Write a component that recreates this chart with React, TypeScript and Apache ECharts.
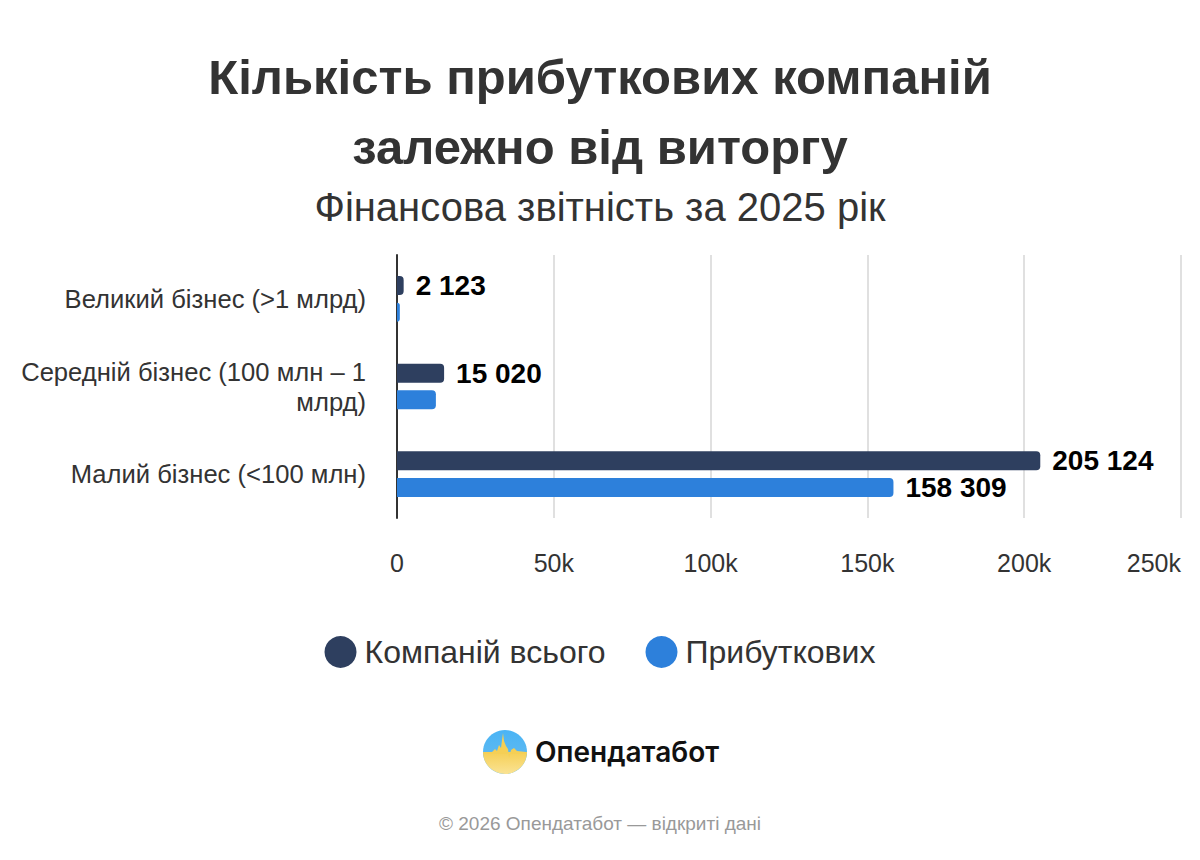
import React, { useEffect, useRef } from "react";
import * as echarts from "echarts";

const categories = [
  "Малий бізнес (<100 млн)",
  "Середній бізнес (100 млн – 1 млрд)",
  "Великий бізнес (>1 млрд)",
];
const totalCompanies = [205124, 15020, 2123];
const profitableCompanies = [158309, 12400, 900];
const profitableLabelShown = [true, false, false];
const xTicks = { min: 0, max: 250000, interval: 50000 };
const seriesNames = ["Компаній всього", "Прибуткових"];

const fmt = (v: number) => String(v).replace(/\B(?=(\d{3})+(?!\d))/g, " ");

export default function App() {
  const ref = useRef<HTMLDivElement>(null);
  useEffect(() => {
    document.body.style.margin = "0";
    const chart = echarts.init(ref.current!, null, { renderer: "svg" });
    const font = "Liberation Sans, Arial, sans-serif";
    chart.setOption({
      animation: false,
      backgroundColor: "#ffffff",
      textStyle: { fontFamily: font },
      title: [
        {
          text: "Кількість прибуткових компаній\nзалежно від виторгу",
          left: "center",
          top: 37,
          textStyle: { fontSize: 49, fontWeight: "bold", color: "#333333", lineHeight: 70, fontFamily: font },
        },
        {
          text: "Фінансова звітність за 2025 рік",
          left: "center",
          top: 182,
          textStyle: { fontSize: 40, fontWeight: "normal", color: "#333333", fontFamily: font },
        },
      ],
      legend: {
        data: seriesNames,
        left: "center",
        top: 631,
        icon: "circle",
        itemWidth: 32,
        itemHeight: 32,
        itemGap: 40,
        textStyle: { fontSize: 32, color: "#333333", fontFamily: font, padding: [0, 0, 0, 3] },
      },
      grid: { left: 397, right: 19, top: 255, bottom: 342, containLabel: false },
      xAxis: {
        type: "value",
        min: xTicks.min,
        max: xTicks.max,
        interval: xTicks.interval,
        axisLine: { show: false },
        axisTick: { show: false },
        splitLine: { lineStyle: { color: "#e0e0e0", width: 2 } },
        axisLabel: {
          margin: 32,
          fontSize: 25,
          color: "#333333",
          fontFamily: font,
          alignMaxLabel: "right",
          formatter: (v: number) => (v === 0 ? "0" : v / 1000 + "k"),
        },
      },
      yAxis: {
        type: "category",
        data: categories,
        axisLine: { show: true, lineStyle: { color: "#333333", width: 2 } },
        axisTick: { show: false },
        axisLabel: {
          margin: 31,
          fontSize: 25.6,
          color: "#333333",
          lineHeight: 30,
          align: "right",
          fontFamily: font,
          formatter: (v: string) => v.replace("– 1 млрд", "– 1\nмлрд"),
        },
      },
      series: [
        {
          name: seriesNames[0],
          type: "bar",
          barWidth: 19,
          barGap: "40%",
          itemStyle: { color: "#2E3F5F", borderRadius: [0, 4, 4, 0] },
          label: {
            show: true,
            position: "right",
            distance: 12,
            fontSize: 28,
            fontWeight: "bold",
            color: "#000000",
            fontFamily: font,
            formatter: (p: any) => fmt(p.value),
          },
          data: totalCompanies,
        },
        {
          name: seriesNames[1],
          type: "bar",
          barWidth: 19,
          itemStyle: { color: "#2D80DB", borderRadius: [0, 4, 4, 0] },
          label: {
            position: "right",
            distance: 12,
            fontSize: 28,
            fontWeight: "bold",
            color: "#000000",
            fontFamily: font,
            formatter: (p: any) => fmt(p.value),
          },
          data: profitableCompanies.map((v, i) => ({ value: v, label: { show: profitableLabelShown[i] } })),
        },
      ],
      graphic: [
        {
          type: "circle",
          shape: { cx: 505, cy: 752, r: 22 },
          style: {
            fill: new echarts.graphic.LinearGradient(0, 0, 0, 1, [
              { offset: 0, color: "#4AB4F5" },
              { offset: 0.5, color: "#5AB8F2" },
            ]),
          },
        },
        {
          type: "sector",
          shape: { cx: 505, cy: 752, r: 22, r0: 0, startAngle: 0, endAngle: Math.PI, clockwise: true },
          style: {
            fill: new echarts.graphic.LinearGradient(0, 0, 0, 1, [
              { offset: 0, color: "#F5CF55" },
              { offset: 1, color: "#FAE394" },
            ]),
          },
        },
        {
          type: "polygon",
          shape: {
            points: [
              [484, 752], [492, 752], [495, 749], [497, 751], [499, 745], [501, 748],
              [502, 740], [503, 733], [504, 741], [506, 746], [508, 749], [509, 758],
              [511, 750], [514, 748], [517, 751], [526, 752], [526, 754], [484, 754],
            ],
          },
          style: { fill: "#F5CF55" },
        },
        {
          type: "text",
          x: 535,
          y: 752,
          style: {
            text: "Опендатабот",
            fontSize: 28,
            fontWeight: 600,
            fontFamily: "Inter, Open Sans, sans-serif",
            fill: "#111111",
            verticalAlign: "middle",
            align: "left",
          },
        },
        {
          type: "text",
          x: 600,
          y: 823,
          style: {
            text: "© 2026 Опендатабот — відкриті дані",
            fontSize: 19,
            fontFamily: font,
            fill: "#999999",
            align: "center",
            verticalAlign: "middle",
          },
        },
      ],
    });
    return () => chart.dispose();
  }, []);
  return <div ref={ref} style={{ width: 1200, height: 860 }} />;
}
